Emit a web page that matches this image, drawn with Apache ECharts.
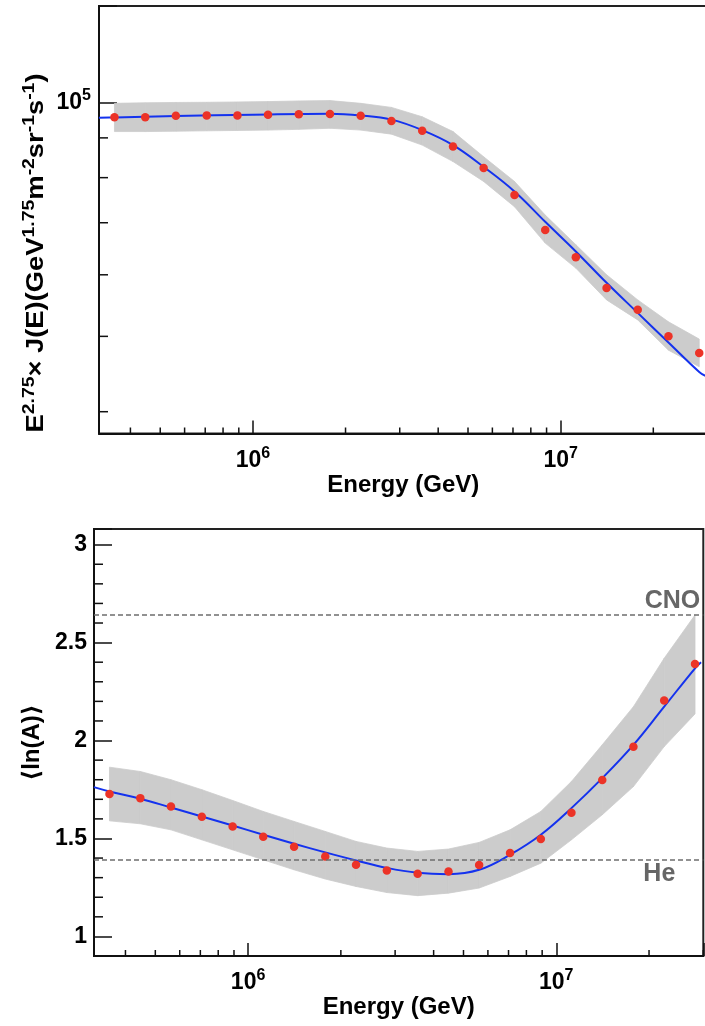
<!DOCTYPE html>
<html><head><meta charset="utf-8">
<script src="https://cdn.jsdelivr.net/npm/echarts@6/dist/echarts.min.js"></script>
<style>html,body{margin:0;padding:0;background:#fff}#c{width:705px;height:1026px}</style>
</head><body><div id="c"></div>
<script>
// ---- data ----
const energy = [3.55e5, 4.47e5, 5.62e5, 7.08e5, 8.91e5, 1.12e6, 1.41e6, 1.78e6, 2.24e6, 2.82e6,
                3.55e6, 4.47e6, 5.62e6, 7.08e6, 8.91e6, 1.12e7, 1.41e7, 1.78e7, 2.24e7, 2.82e7];

const fluxPoints = [95700, 95700, 96100, 96200, 96200, 96400, 96500, 96600, 96100, 94600,
                    91900, 87700, 82300, 76000, 68500, 63200, 57700, 54100, 50000, 47600];
const fluxBandLow = [91700, 91700, 91800, 91900, 92000, 92100, 92300, 92600, 92100, 91000,
                     88100, 83900, 79100, 73400, 65900, 61200, 55700, 52500, 48000, 45700];
const fluxBandHigh = [99700, 99850, 99950, 100000, 100100, 100200, 100400, 100500, 99700, 98500,
                      95800, 91700, 85100, 79100, 71600, 65600, 60000, 55700, 52200, 49600];
const fluxFitEnergy = [3.16e5, 3.55e5, 5.62e5, 1.0e6, 1.78e6, 2.24e6, 2.82e6, 3.55e6, 4.47e6, 5.62e6,
                       7.08e6, 8.91e6, 1.12e7, 1.41e7, 1.78e7, 2.24e7, 2.82e7, 2.98e7];
const fluxFit = [95500, 95600, 96000, 96400, 96700, 96200, 95000, 92100, 88100, 82600,
                 76800, 70200, 64300, 58600, 53600, 49100, 45000, 44400];

const lnAPoints = [1.727, 1.706, 1.663, 1.611, 1.561, 1.509, 1.458, 1.408, 1.366, 1.337,
                   1.320, 1.332, 1.364, 1.426, 1.497, 1.631, 1.799, 1.968, 2.204, 2.391];
const lnABandLow = [1.590, 1.575, 1.544, 1.493, 1.442, 1.391, 1.340, 1.293, 1.255, 1.224,
                    1.208, 1.221, 1.247, 1.306, 1.374, 1.493, 1.621, 1.765, 1.969, 2.136];
const lnABandHigh = [1.864, 1.842, 1.800, 1.749, 1.694, 1.638, 1.587, 1.536, 1.485, 1.451,
                     1.434, 1.446, 1.480, 1.544, 1.638, 1.791, 1.978, 2.173, 2.420, 2.641];
const lnAFitEnergy = [3.16e5, 3.55e5, 4.47e5, 5.62e5, 7.08e5, 8.91e5, 1.12e6, 1.41e6, 1.78e6, 2.24e6, 2.82e6,
                      3.55e6, 4.47e6, 5.62e6, 7.08e6, 8.91e6, 1.12e7, 1.41e7, 1.78e7, 2.24e7, 2.82e7, 2.95e7];
const lnAFit = [1.762, 1.740, 1.703, 1.658, 1.612, 1.566, 1.519, 1.473, 1.429, 1.388, 1.350,
                1.325, 1.318, 1.340, 1.417, 1.519, 1.655, 1.808, 1.978, 2.173, 2.369, 2.400];

const refNames = ['CNO', 'He'];
const refValues = [2.639, 1.386];

// tick values
const energyMinorTicks = [4e5, 5e5, 6e5, 7e5, 8e5, 9e5, 2e6, 3e6, 4e6, 5e6, 6e6, 7e6, 8e6, 9e6, 2e7, 3e7];
const fluxMinorTicks = [4e4, 5e4, 6e4, 7e4, 8e4, 9e4];
const lnAMinorTicks = [1.1, 1.2, 1.3, 1.4, 1.6, 1.7, 1.8, 1.9, 2.1, 2.2, 2.3, 2.4, 2.6, 2.7, 2.8, 2.9];

// ---- axis ranges ----
const X_MIN = 316227.77, X_MAX = 3.0e7;
const Y1_MIN = 37500, Y1_MAX = 133000;
const Y2_MIN = 0.9, Y2_MAX = 3.08;

const FONT = '"Liberation Sans", "DejaVu Sans", Arial, sans-serif';
const INK = '#111';

function isDecade(v) { const l = Math.log10(v); return Math.abs(l - Math.round(l)) < 1e-6; }
function powLabel(v) { return isDecade(v) ? '{b|10}{s|' + Math.round(Math.log10(v)) + '}' : ''; }
const powRich = {
  b: { fontSize: 23, fontWeight: 'bold', fontFamily: FONT, color: '#000', lineHeight: 30, verticalAlign: 'middle' },
  s: { fontSize: 16, fontWeight: 'bold', fontFamily: FONT, color: '#000', lineHeight: 10, verticalAlign: 'top' }
};

function xAxisCfg(gi, gap) {
  return {
    type: 'log', logBase: 10, gridIndex: gi, min: X_MIN, max: X_MAX,
    axisLine: { show: true, onZero: false, lineStyle: { color: INK, width: 2 } },
    axisTick: { show: true, inside: true, length: 13, lineStyle: { color: INK, width: 1.5 } },
    minorTick: { show: false }, splitLine: { show: false }, minorSplitLine: { show: false },
    axisLabel: { interval: 0, margin: 12, formatter: powLabel, rich: powRich },
    name: 'Energy (GeV)', nameLocation: 'middle', nameGap: gap,
    nameTextStyle: { fontSize: 24, fontWeight: 'bold', fontFamily: FONT, color: '#000' }
  };
}

function tickSeries(xi, yi, rows, dir, len) {
  return {
    type: 'custom', xAxisIndex: xi, yAxisIndex: yi, silent: true, clip: false, z: 6,
    data: rows, encode: { x: 0, y: 1 },
    renderItem: (params, api) => {
      const p = api.coord([api.value(0), api.value(1)]);
      const shape = dir === 'x'
        ? { x1: p[0], y1: p[1], x2: p[0], y2: p[1] - len }
        : { x1: p[0], y1: p[1], x2: p[0] + len, y2: p[1] };
      return { type: 'line', shape: shape, style: { stroke: INK, lineWidth: 1.5 } };
    }
  };
}

function bandSeries(xi, yi, E, lo, hi) {
  return {
    type: 'custom', xAxisIndex: xi, yAxisIndex: yi, silent: true, z: 1,
    data: E.map((e, i) => [e, lo[i], hi[i]]), encode: { x: 0, y: [1, 2] },
    renderItem: (params, api) => {
      const i = params.dataIndexInside;
      if (i >= params.dataInsideLength - 1) return { type: 'group', children: [] };
      const a0 = api.value(0), a1 = api.value(1), a2 = api.value(2);
      const b0 = api.value(0, i + 1), b1 = api.value(1, i + 1), b2 = api.value(2, i + 1);
      const pts = [api.coord([a0, a2]), api.coord([b0, b2]), api.coord([b0, b1]), api.coord([a0, a1])];
      return { type: 'polygon', shape: { points: pts }, style: { fill: '#cccccc', stroke: '#cccccc', lineWidth: 0.8 } };
    }
  };
}

const option = {
  backgroundColor: '#fff',
  animation: false,
  graphic: [
    {
      type: 'text', x: 36, y: 253, rotation: Math.PI / 2, scaleX: 1.14, silent: true,
      style: {
        text: '{b|E}{s|2.75}{b|× J(E)(GeV}{s|1.75}{b|m}{s|-2}{b|sr}{s|-1}{b|s}{s|-1}{b|)}',
        align: 'center', verticalAlign: 'middle',
        rich: {
          b: { fontSize: 24, fontWeight: 'bold', fontFamily: FONT, fill: '#000', lineHeight: 30, verticalAlign: 'middle' },
          s: { fontSize: 17, fontWeight: 'bold', fontFamily: FONT, fill: '#000', lineHeight: 10, verticalAlign: 'top' }
        }
      }
    }
  ],
  grid: [
    { left: 99, top: 6, width: 608.5, height: 427.5, show: true, borderColor: '#222', borderWidth: 2, backgroundColor: 'transparent', outerBoundsMode: 'none' },
    { left: 94, top: 529, width: 609.3, height: 427, show: true, borderColor: '#222', borderWidth: 2, backgroundColor: 'transparent', outerBoundsMode: 'none' }
  ],
  xAxis: [ xAxisCfg(0, 40), xAxisCfg(1, 36) ],
  yAxis: [
    {
      type: 'log', logBase: 10, gridIndex: 0, min: Y1_MIN, max: Y1_MAX,
      axisLine: { show: true, onZero: false, lineStyle: { color: INK, width: 2 } },
      axisTick: { show: true, inside: true, length: 18, lineStyle: { color: INK, width: 1.5 } },
      splitLine: { show: false }, minorTick: { show: false },
      axisLabel: { margin: 8, formatter: powLabel, rich: powRich }
    },
    {
      type: 'value', gridIndex: 1, min: Y2_MIN, max: Y2_MAX, splitNumber: 4,
      axisLine: { show: true, onZero: false, lineStyle: { color: INK, width: 2 } },
      axisTick: { show: true, inside: true, length: 18, lineStyle: { color: INK, width: 1.5 } },
      splitLine: { show: false }, minorTick: { show: false },
      axisLabel: {
        margin: 7, fontSize: 23, fontWeight: 'bold', fontFamily: FONT, color: '#000',
        formatter: v => (Math.abs(v * 2 - Math.round(v * 2)) < 1e-9 ? String(v) : '')
      },
      name: '⟨ln(A)⟩', nameLocation: 'middle', nameRotate: 90, nameGap: 50,
      nameTextStyle: { fontSize: 24, fontWeight: 'bold', fontFamily: FONT, color: '#000' }
    }
  ],
  series: [
    bandSeries(0, 0, energy, fluxBandLow, fluxBandHigh),
    {
      type: 'line', xAxisIndex: 0, yAxisIndex: 0, z: 3, smooth: 0.4, showSymbol: false, silent: true,
      data: fluxFitEnergy.map((e, i) => [e, fluxFit[i]]),
      lineStyle: { color: '#1432ee', width: 2 }
    },
    {
      type: 'scatter', xAxisIndex: 0, yAxisIndex: 0, z: 4, symbolSize: 8.5, silent: true,
      data: energy.map((e, i) => [e, fluxPoints[i]]),
      itemStyle: { color: '#ec3327', opacity: 1 }
    },
    bandSeries(1, 1, energy, lnABandLow, lnABandHigh),
    {
      type: 'line', xAxisIndex: 1, yAxisIndex: 1, z: 3, smooth: 0.4, showSymbol: false, silent: true,
      data: lnAFitEnergy.map((e, i) => [e, lnAFit[i]]),
      lineStyle: { color: '#1432ee', width: 2 },
      markLine: {
        silent: true, symbol: ['none', 'none'], animation: false,
        lineStyle: { type: [5, 3], color: '#6e6e6e', width: 1.5 },
        data: refNames.map((n, i) => ({
          name: n, yAxis: refValues[i],
          label: {
            show: true, formatter: n, position: i === 0 ? 'insideEndTop' : 'insideEndBottom',
            distance: i === 0 ? [3, 2] : [28, 2],
            fontSize: 25, fontWeight: 'bold', fontFamily: FONT, color: '#666'
          }
        }))
      }
    },
    {
      type: 'scatter', xAxisIndex: 1, yAxisIndex: 1, z: 4, symbolSize: 8.5, silent: true,
      data: energy.map((e, i) => [e, lnAPoints[i]]),
      itemStyle: { color: '#ec3327', opacity: 1 }
    },
    tickSeries(0, 0, energyMinorTicks.map(v => [v, Y1_MIN]), 'x', 6),
    tickSeries(0, 0, fluxMinorTicks.map(v => [X_MIN, v]), 'y', 9),
    tickSeries(1, 1, energyMinorTicks.map(v => [v, Y2_MIN]), 'x', 6),
    tickSeries(1, 1, lnAMinorTicks.map(v => [X_MIN, v]), 'y', 9)
  ]
};

const chart = echarts.init(document.getElementById('c'), null, { renderer: 'canvas' });
chart.setOption(option);
</script>
</body></html>
